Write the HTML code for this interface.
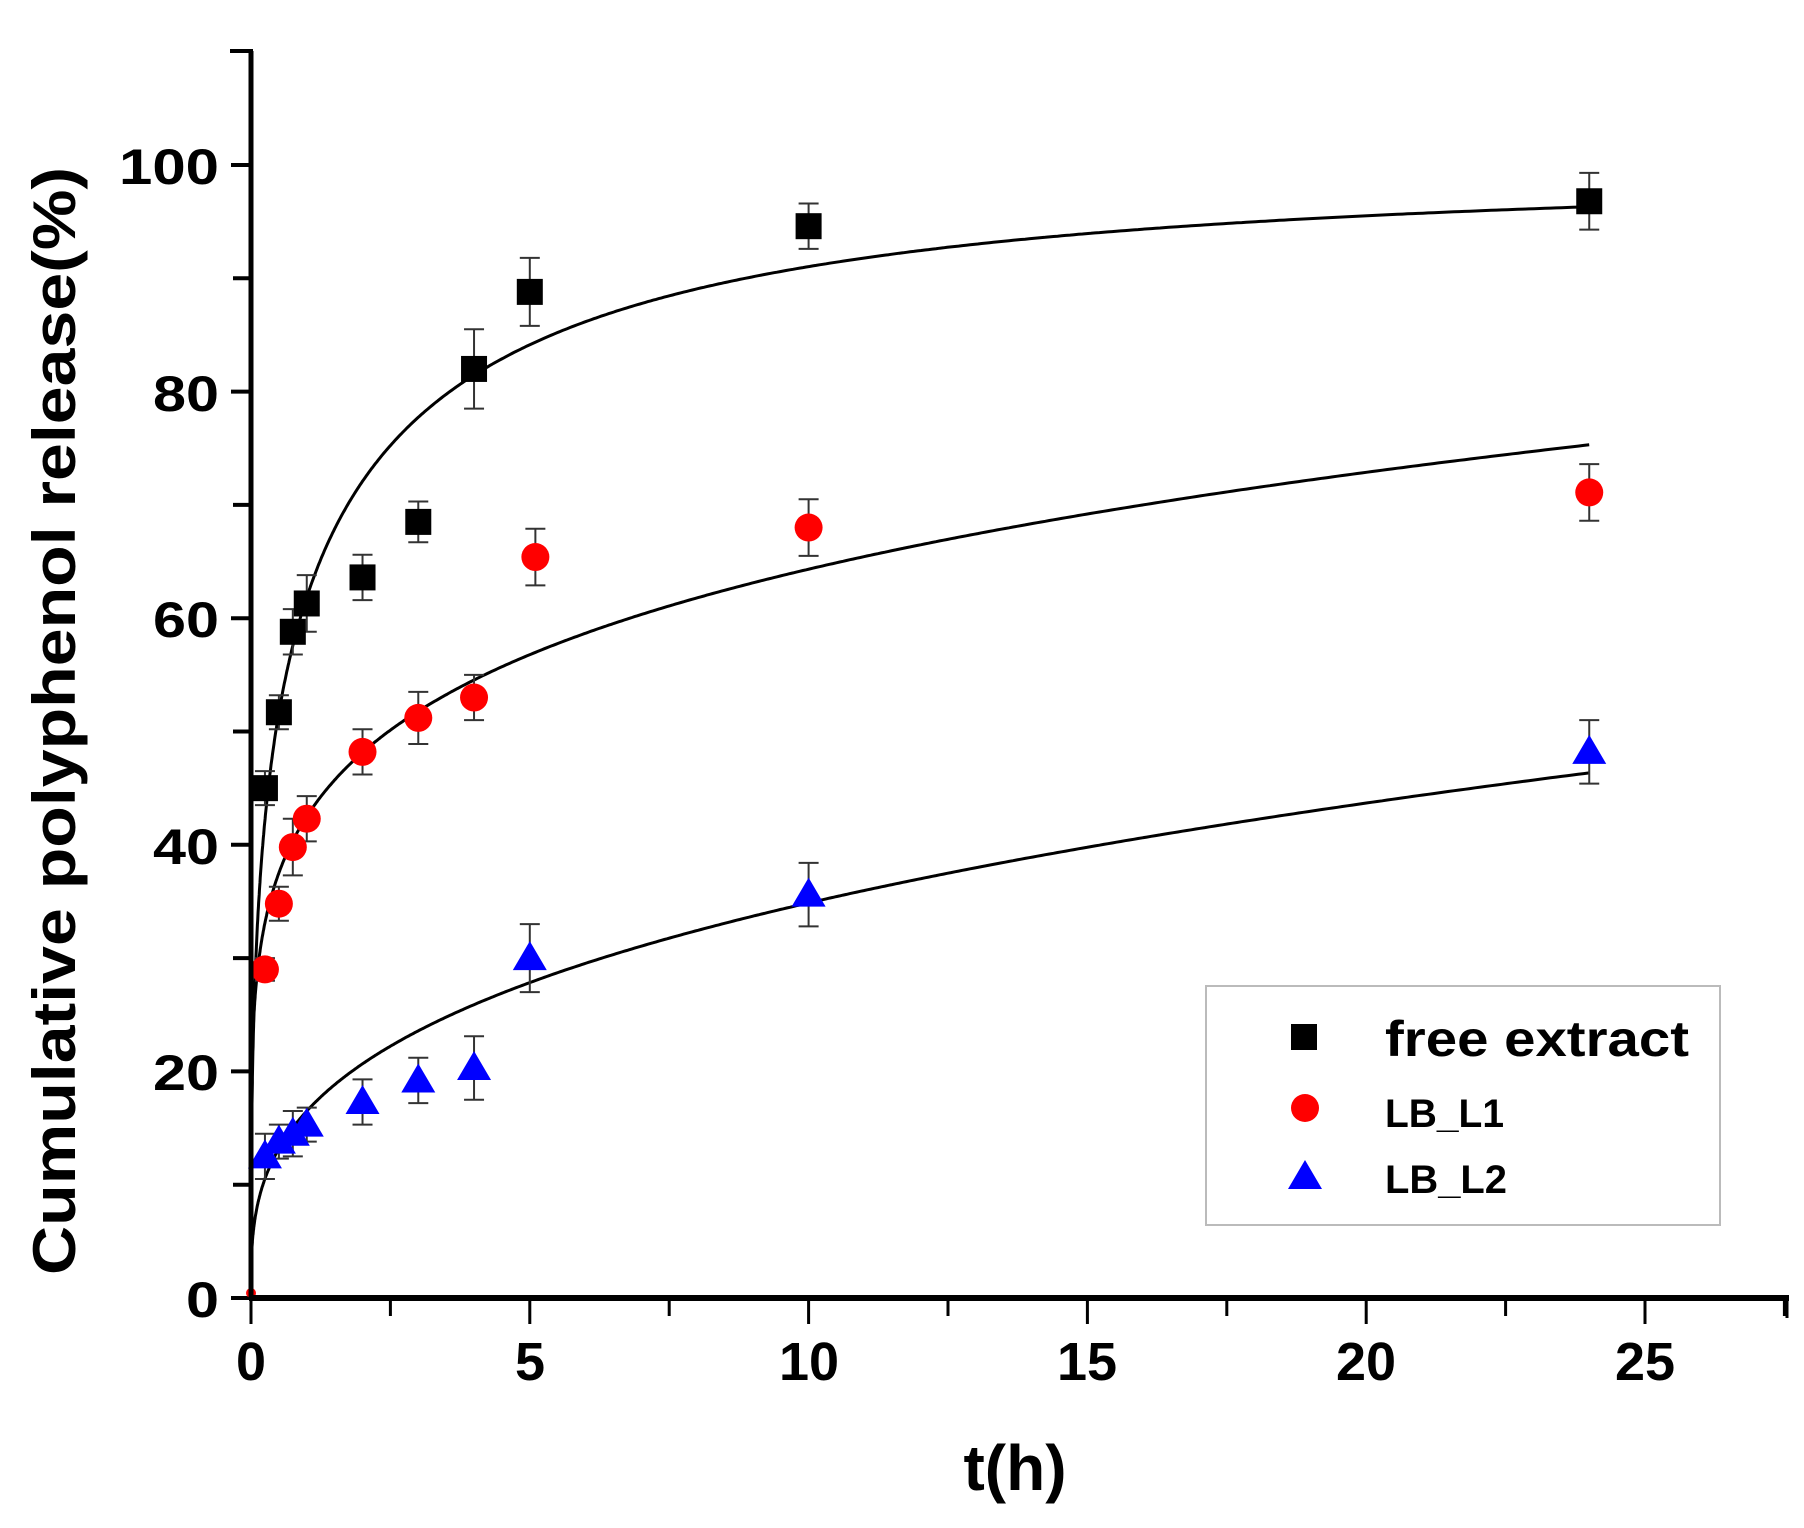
<!DOCTYPE html>
<html><head><meta charset="utf-8"><style>
html,body{margin:0;padding:0;background:#fff;}
svg{display:block;}
text{font-family:"Liberation Sans",Arial,sans-serif;font-weight:bold;fill:#000;}
</style></head><body>
<svg id="s" width="1804" height="1528" viewBox="0 0 1804 1528" xmlns="http://www.w3.org/2000/svg">
<rect width="1804" height="1528" fill="#fff"/>
<g id="g"></g>
<line x1="251" y1="51" x2="251" y2="1300" stroke="#000" stroke-width="5"/>
<line x1="249" y1="1298" x2="1789" y2="1298" stroke="#000" stroke-width="6"/>
<line x1="230" y1="51" x2="253" y2="51" stroke="#000" stroke-width="4"/>
<g font-size="50" text-anchor="end">
<text x="219" y="184" textLength="100" lengthAdjust="spacingAndGlyphs">100</text>
<text x="219" y="411" textLength="66" lengthAdjust="spacingAndGlyphs">80</text>
<text x="219" y="637" textLength="66" lengthAdjust="spacingAndGlyphs">60</text>
<text x="219" y="864" textLength="66" lengthAdjust="spacingAndGlyphs">40</text>
<text x="219" y="1090" textLength="66" lengthAdjust="spacingAndGlyphs">20</text>
<text x="219" y="1317" textLength="33" lengthAdjust="spacingAndGlyphs">0</text>
</g>
<g font-size="54" text-anchor="middle">
<text x="251" y="1380">0</text>
<text x="530" y="1380">5</text>
<text x="809" y="1380">10</text>
<text x="1087" y="1380">15</text>
<text x="1366" y="1380">20</text>
<text x="1645" y="1380">25</text>
</g>
<text x="1015" y="1490" font-size="64" text-anchor="middle">t(h)</text>
<text transform="translate(75,721) rotate(-90)" font-size="60" text-anchor="middle" textLength="1108" lengthAdjust="spacingAndGlyphs">Cumulative polyphenol release(%)</text>
<rect x="1206" y="986" width="514" height="239" fill="none" stroke="#bbb" stroke-width="2"/>
<rect x="1291" y="1024" width="26" height="26" fill="#000"/>
<circle cx="1305" cy="1108" r="14" fill="#f00"/>
<polygon points="1305,1160 1288,1189 1322,1189" fill="#00f"/>
<text x="1385" y="1056" font-size="50" textLength="304" lengthAdjust="spacingAndGlyphs">free extract</text>
<text x="1385" y="1127" font-size="40" textLength="119" lengthAdjust="spacingAndGlyphs">LB_L1</text>
<text x="1385" y="1193" font-size="40" textLength="122" lengthAdjust="spacingAndGlyphs">LB_L2</text>
</svg>
<script>
(function(){
var NS="http://www.w3.org/2000/svg",g=document.getElementById('g');
function X(t){return 251+55.76*t;} function Y(v){return 1298-11.33*v;}
function el(n,a){var e=document.createElementNS(NS,n);for(var k in a)e.setAttribute(k,a[k]);g.appendChild(e);return e;}
for(var v=0;v<=100;v+=10){var L=(v%20==0)?20:18;el('line',{x1:251-L,y1:Y(v),x2:251,y2:Y(v),stroke:'#000','stroke-width':4});}
for(var t=0;t<=27.5;t+=2.5){var L=(t%5==0)?26:18;el('line',{x1:X(t),y1:1298,x2:X(t),y2:1298+L,stroke:'#000','stroke-width':3});}
el('line',{x1:1787,y1:1298,x2:1787,y2:1318,stroke:'#000','stroke-width':3});
var fs=[function(t){return 99*(1-Math.exp(-Math.pow(t/1.05,0.41)));},
 function(t){return 42.5*Math.pow(t,0.18);},
 function(t){return 16.5*Math.pow(t,0.325);}];
fs.forEach(function(f){var d='';for(var i=0;i<=600;i++){var t=24*Math.pow(i/600,2.5);d+=(i?'L':'M')+X(t).toFixed(1)+','+Y(f(t)).toFixed(1);}
 el('path',{d:d,fill:'none',stroke:'#000','stroke-width':3});});
var T=[0.25,0.5,0.75,1,2,3,4,5,10,24];
var D=[[45,51.7,58.8,61.3,63.6,68.5,82,88.8,94.6,96.8],[29,34.8,39.8,42.3,48.2,51.2,53,65.4,68,71.1],[12.5,13.8,14.5,15.3,17.3,19.2,20.3,30,35.6,48.2]];
var E=[[1.5,1.5,2,2.5,2,1.8,3.5,3,2,2.5],[1,1.5,2.5,2,2,2.3,2,2.5,2.5,2.5],[2,1.5,2,1.5,2,2,2.8,3,2.8,2.8]];
var TX=[T,[0.25,0.5,0.75,1,2,3,4,5.1,10,24],T];
for(var s=0;s<3;s++){for(var i=0;i<10;i++){var x=X(TX[s][i]),y=Y(D[s][i]),e=E[s][i]*11.33;
 el('line',{x1:x,y1:y-e,x2:x,y2:y+e,stroke:'#333','stroke-width':2});
 el('line',{x1:x-10,y1:y-e,x2:x+10,y2:y-e,stroke:'#333','stroke-width':2});
 el('line',{x1:x-10,y1:y+e,x2:x+10,y2:y+e,stroke:'#333','stroke-width':2});}}
for(var s=0;s<3;s++){for(var i=0;i<10;i++){var x=X(TX[s][i]),y=Y(D[s][i]);
 if(s==0)el('rect',{x:x-13,y:y-13,width:26,height:26,fill:'#000'});
 else if(s==1)el('circle',{cx:x,cy:y,r:14,fill:'#f00'});
 else el('polygon',{points:x+','+(y-17)+' '+(x-17)+','+(y+12)+' '+(x+17)+','+(y+12),fill:'#00f'});}}
el('circle',{cx:X(0),cy:Y(0)-5,r:5,fill:'#f00'});
})();
</script>
</body></html>
